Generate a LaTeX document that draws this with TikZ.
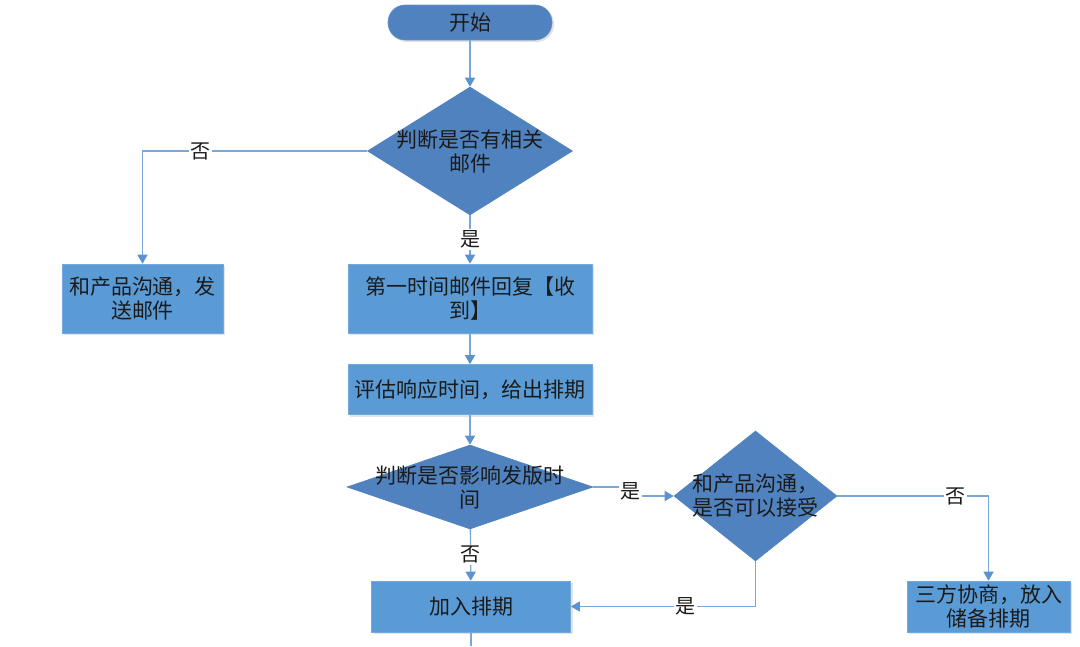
\documentclass[tikz,border=0pt]{standalone}
\usepackage{fontspec}
\setmainfont{Noto Sans CJK SC}
\usetikzlibrary{shapes.geometric,arrows.meta,shadows}
\definecolor{boxblue}{HTML}{5B9BD5}
\definecolor{diablue}{HTML}{4F82BE}
\definecolor{lineblue}{HTML}{78A8DA}
\definecolor{tipblue}{HTML}{5B92CF}
\definecolor{txt}{HTML}{1A1A1A}
\begin{document}
\begin{tikzpicture}[x=1pt,y=-1pt,
  base/.style={inner sep=0pt, text=txt, font=\fontsize{21}{24}\selectfont, align=center},
  procbox/.style={base, rectangle, fill=boxblue, draw=boxblue!85!white, line width=0.6pt,
    drop shadow={opacity=0.22, shadow xshift=2pt, shadow yshift=-2pt}},
  startbox/.style={base, rectangle, rounded corners=17pt, fill=diablue, draw=diablue!85!white, line width=0.6pt,
    drop shadow={opacity=0.22, shadow xshift=2pt, shadow yshift=-2pt}},
  decision/.style={diamond, inner sep=0pt, fill=diablue, draw=diablue, line width=0.6pt},
  conn/.style={draw=lineblue, line width=1.3pt, -{Triangle[width=10pt,length=9pt,color=tipblue]}},
  plain/.style={draw=lineblue, line width=1.3pt},
  lbl/.style={fill=white, inner sep=1.5pt, text=txt, font=\fontsize{20}{22}\selectfont}
]
\useasboundingbox (0,0) rectangle (1080,646);
\fill[white] (0,0) rectangle (1080,646);

\node[startbox, minimum width=164pt, minimum height=35pt] (start) at (470,22.5) {开始};
\node[decision, minimum width=205pt, minimum height=128pt,
  label={[base]center:判断是否有相关\\邮件}] (d1) at (470,151) {};
\node[procbox, minimum width=161pt, minimum height=69pt] (mail) at (142.5,298.5) {和产品沟通，发\\送邮件};
\node[procbox, minimum width=244pt, minimum height=69pt] (reply) at (470,298.5) {第一时间邮件回复【收\\到】};
\node[procbox, minimum width=244pt, minimum height=50pt] (eval) at (470,389.5) {评估响应时间，给出排期};
\node[decision, minimum width=246pt, minimum height=84pt,
  label={[base]center:判断是否影响发版时\\间}] (d2) at (470,487) {};
\node[procbox, minimum width=199pt, minimum height=51pt] (add) at (471,606.5) {加入排期};
\node[decision, minimum width=163pt, minimum height=130pt,
  label={[base]center:和产品沟通，\\是否可以接受}] (d3) at (755.5,496) {};
\node[procbox, minimum width=163pt, minimum height=51pt] (neg) at (988.5,606.5) {三方协商，放入\\储备排期};
\coordinate (out) at (471,646);
\coordinate (jog) at (630,491.5);

\draw[conn] (start) -- (d1);
\draw[conn] (d1.west) -| node[lbl, pos=0.37]{否} (mail.north);
\draw[conn] (d1) -- node[lbl]{是} (reply);
\draw[conn] (reply) -- (eval);
\draw[conn] (eval) -- (d2);
\draw[conn] (d2) -- node[lbl]{否} (add);
\draw[conn] (d2.east) -| (jog) |- (d3.west);
\node[lbl] at (jog) {是};
\draw[conn] (d3.east) -| node[lbl, pos=0.39]{否} (neg.north);
\draw[conn] (d3.south) |- node[lbl, pos=0.69]{是} (add.east);
\draw[plain] (add.south) -- (out);
\end{tikzpicture}
\end{document}
